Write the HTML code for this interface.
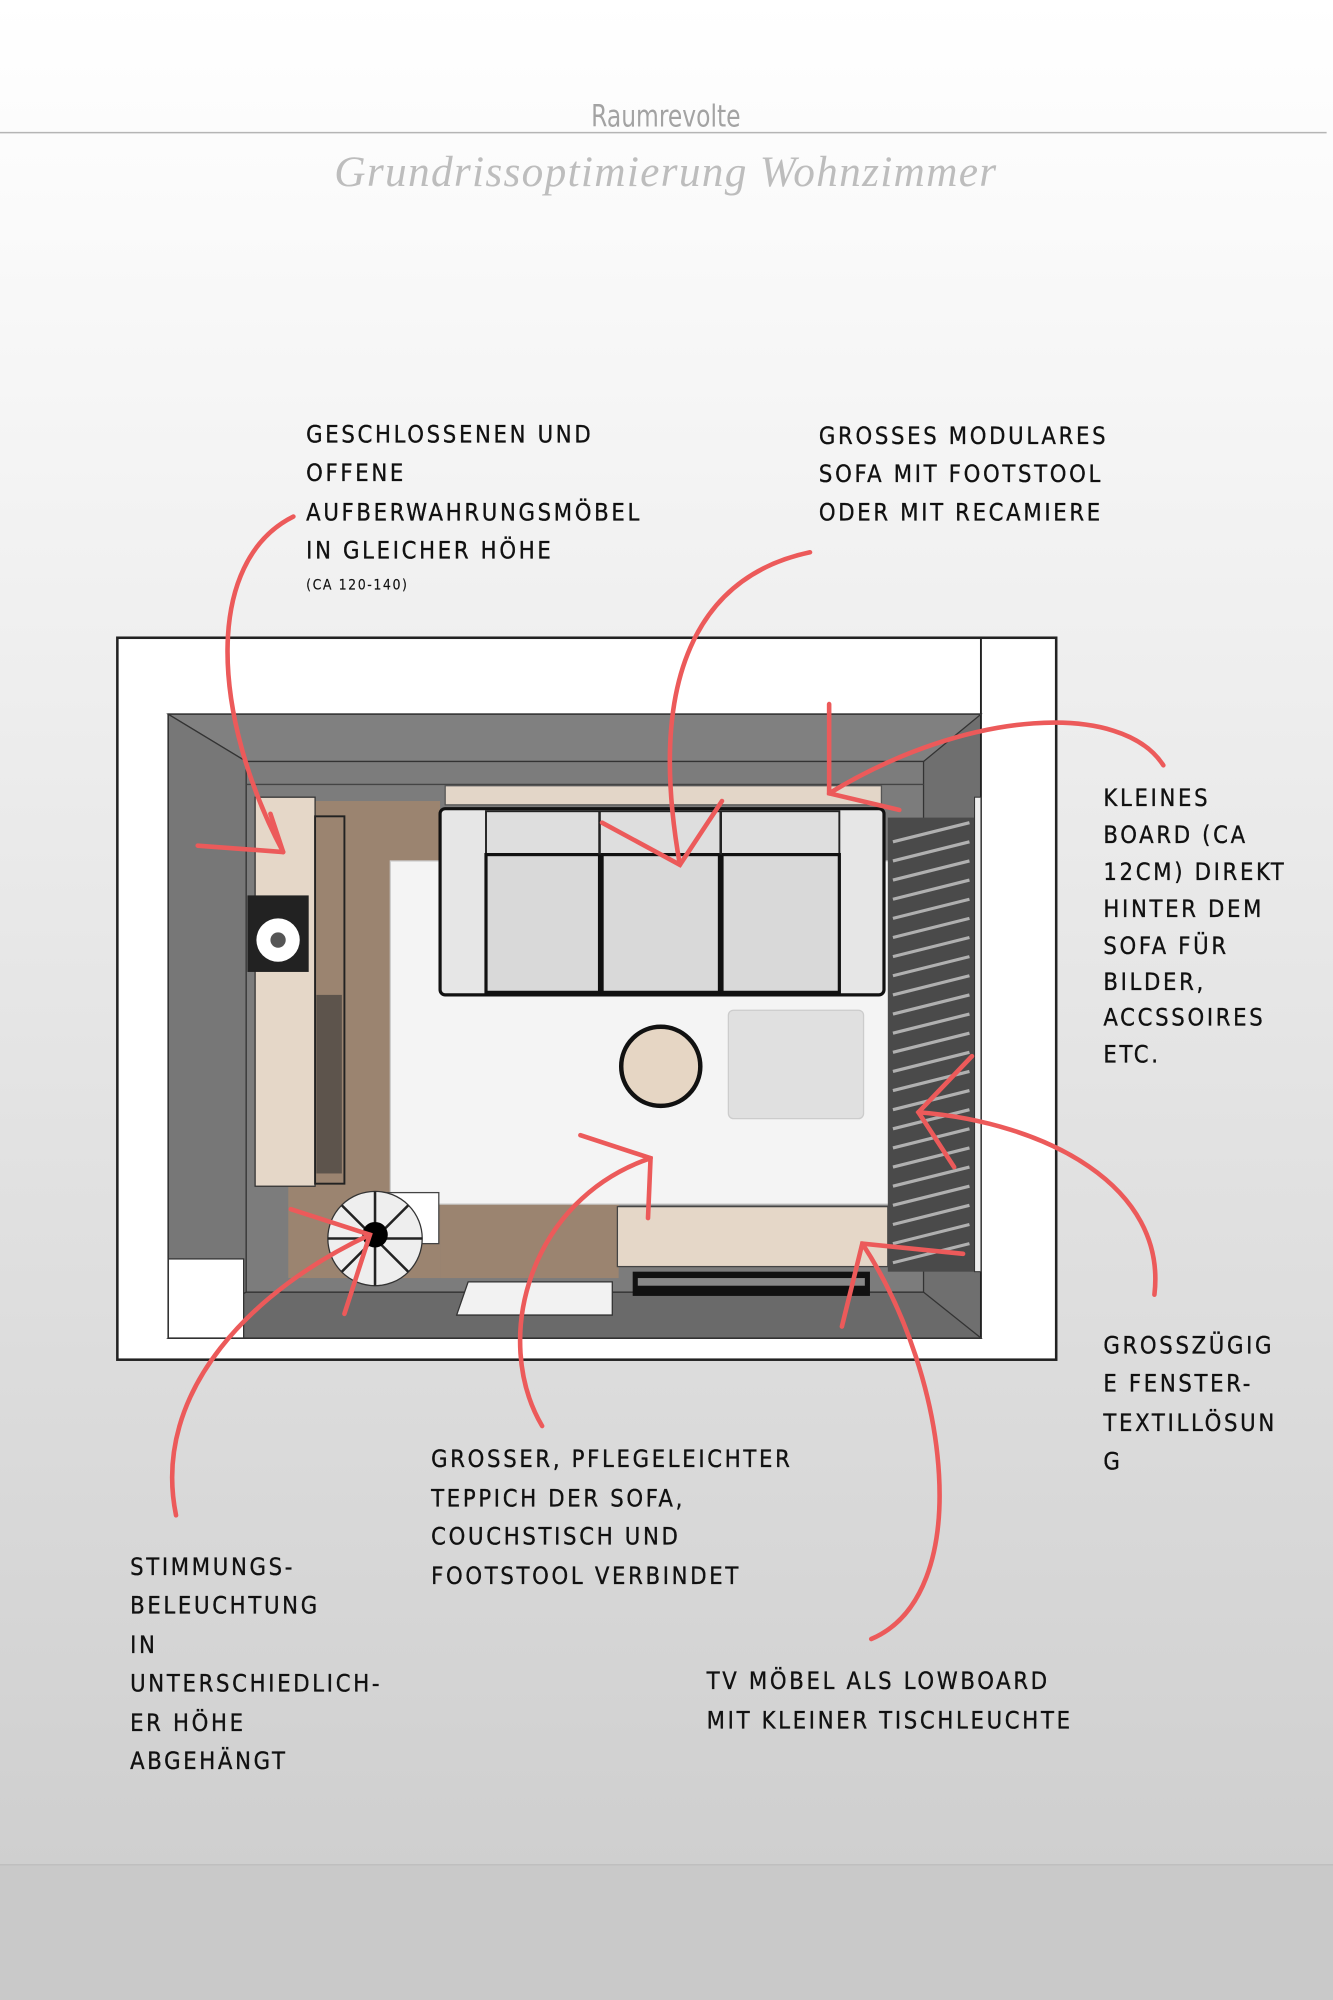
<!DOCTYPE html>
<html><head><meta charset="utf-8"><style>
html,body{margin:0;padding:0;width:1333px;height:2000px;overflow:hidden}
svg{display:block}
.t{font-family:"DejaVu Sans Condensed","Liberation Sans Narrow","Liberation Sans",sans-serif;font-size:18.5px;letter-spacing:2.1px;fill:#111;stroke:#111;stroke-width:0.25}
.a{fill:none;stroke:#ec5a5a;stroke-width:3.6;stroke-linecap:round}
</style></head><body>
<svg width="1333" height="2000" viewBox="0 0 1045 1568" preserveAspectRatio="none" xmlns="http://www.w3.org/2000/svg">
<defs><linearGradient id="bg" x1="0" y1="0" x2="0" y2="1">
<stop offset="0" stop-color="#ffffff"/><stop offset="0.12" stop-color="#fafafa"/><stop offset="1" stop-color="#cfcfcf"/></linearGradient></defs>
<rect width="1045" height="1462" fill="url(#bg)"/>
<rect y="1462" width="1045" height="106" fill="#c9c9c9"/>
<line x1="0" y1="1462" x2="1045" y2="1462" stroke="#bdbdbd" stroke-width="1"/>
<line x1="0" y1="104" x2="1040" y2="104" stroke="#b5b5b5" stroke-width="1.2"/>
<text x="522" y="99" text-anchor="middle" font-family="DejaVu Sans Condensed,Liberation Sans,sans-serif" font-size="24" fill="#a3a3a3" transform="translate(522,0) scale(0.85,1) translate(-522,0)">Raumrevolte</text>
<text x="522" y="146" text-anchor="middle" font-family="Liberation Serif,serif" font-style="italic" font-size="34" fill="#bdbdbd" letter-spacing="1">Grundrissoptimierung  Wohnzimmer</text>

<!-- floor plan -->
<rect x="92" y="500" width="736" height="566" fill="#fff" stroke="#222" stroke-width="2"/>
<rect x="132" y="560" width="637" height="489" fill="#6f6f6f" stroke="#222" stroke-width="1.5"/>
<line x1="769" y1="500" x2="769" y2="560" stroke="#222" stroke-width="1.5"/>
<polygon points="193,597 724,597 769,560 132,560" fill="#808080" stroke="#333" stroke-width="1"/>
<polygon points="132,560 193,597 193,1013 132,1049" fill="#777" stroke="#333" stroke-width="1"/>
<polygon points="193,1013 724,1013 769,1049 132,1049" fill="#6a6a6a" stroke="#333" stroke-width="1"/>
<rect x="193" y="597" width="531" height="416" fill="#7c7c7c" stroke="#333" stroke-width="1"/>
<line x1="193" y1="615" x2="724" y2="615" stroke="#444"/>
<rect x="226" y="628" width="119" height="374" fill="#9b8470"/>
<rect x="345" y="944" width="140" height="58" fill="#9b8470"/>
<rect x="306" y="675" width="392" height="269" fill="#f4f4f4" stroke="#ccc"/>
<rect x="349" y="616" width="342" height="15" fill="#e3d6c8" stroke="#555"/>
<!-- sofa -->
<rect x="345" y="634" width="348" height="146" rx="4" fill="#e6e6e6" stroke="#111" stroke-width="2.5"/>
<rect x="381" y="636" width="277" height="34" fill="#dedede" stroke="#222" stroke-width="1.5"/>
<rect x="381" y="670" width="89" height="108" fill="#d9d9d9" stroke="#111" stroke-width="2.5"/>
<rect x="472" y="670" width="92" height="108" fill="#d9d9d9" stroke="#111" stroke-width="2.5"/>
<rect x="566" y="670" width="92" height="108" fill="#d9d9d9" stroke="#111" stroke-width="2.5"/>
<line x1="470" y1="636" x2="470" y2="670" stroke="#222" stroke-width="2"/>
<line x1="565" y1="636" x2="565" y2="670" stroke="#222" stroke-width="2"/>
<circle cx="518" cy="836" r="31" fill="#e6d6c4" stroke="#111" stroke-width="3.5"/>
<rect x="571" y="792" width="106" height="85" rx="4" fill="#e0e0e0" stroke="#ccc"/>
<!-- shelf -->
<rect x="200" y="625" width="47" height="305" fill="#e5d7c8" stroke="#333"/>
<rect x="247" y="640" width="23" height="288" fill="none" stroke="#222" stroke-width="1.5"/>
<rect x="248" y="780" width="20" height="140" fill="#333" opacity="0.6"/>
<rect x="194" y="702" width="48" height="60" fill="#222"/>
<circle cx="218" cy="737" r="17" fill="#fff"/><circle cx="218" cy="737" r="6" fill="#555"/>
<!-- tv board -->
<rect x="484" y="946" width="212" height="47" fill="#e5d7c8" stroke="#444"/>
<rect x="496" y="997" width="186" height="19" fill="#111"/>
<rect x="500" y="1002" width="178" height="6" fill="#888"/>
<!-- curtain -->
<rect x="696" y="641" width="68" height="356" fill="#4a4a4a"/>
<g stroke="#b0b0b0" stroke-width="2.5">
<line x1="700" y1="660" x2="760" y2="645"/><line x1="700" y1="675" x2="760" y2="660"/><line x1="700" y1="690" x2="760" y2="675"/><line x1="700" y1="705" x2="760" y2="690"/><line x1="700" y1="720" x2="760" y2="705"/><line x1="700" y1="735" x2="760" y2="720"/><line x1="700" y1="750" x2="760" y2="735"/><line x1="700" y1="765" x2="760" y2="750"/><line x1="700" y1="780" x2="760" y2="765"/><line x1="700" y1="795" x2="760" y2="780"/><line x1="700" y1="810" x2="760" y2="795"/><line x1="700" y1="825" x2="760" y2="810"/><line x1="700" y1="840" x2="760" y2="825"/><line x1="700" y1="855" x2="760" y2="840"/><line x1="700" y1="870" x2="760" y2="855"/><line x1="700" y1="885" x2="760" y2="870"/><line x1="700" y1="900" x2="760" y2="885"/><line x1="700" y1="915" x2="760" y2="900"/><line x1="700" y1="930" x2="760" y2="915"/><line x1="700" y1="945" x2="760" y2="930"/><line x1="700" y1="960" x2="760" y2="945"/><line x1="700" y1="975" x2="760" y2="960"/><line x1="700" y1="990" x2="760" y2="975"/>
</g>
<rect x="764" y="625" width="5" height="372" fill="#eee" stroke="#333" stroke-width="0.8"/>
<!-- lamp -->
<rect x="300" y="935" width="44" height="40" fill="#fff" stroke="#444"/>
<circle cx="294" cy="971" r="37" fill="#eee" stroke="#333"/>
<g stroke="#222" stroke-width="2">
<line x1="294" y1="971" x2="294" y2="934"/><line x1="294" y1="971" x2="320" y2="945"/><line x1="294" y1="971" x2="331" y2="971"/><line x1="294" y1="971" x2="320" y2="997"/><line x1="294" y1="971" x2="294" y2="1008"/><line x1="294" y1="971" x2="268" y2="997"/><line x1="294" y1="971" x2="257" y2="971"/><line x1="294" y1="971" x2="268" y2="945"/></g>
<circle cx="294" cy="968" r="10" fill="#000"/>
<rect x="132" y="987" width="59" height="62" fill="#fff" stroke="#333"/>
<polygon points="367,1005 480,1005 480,1031 358,1031" fill="#f2f2f2" stroke="#333"/>

<!-- arrows -->
<path class="a" d="M230,405 C160,440 165,560 222,668"/><path class="a" d="M212,638 L222,668 M155,663 L222,668"/>
<path class="a" d="M635,433 C555,450 505,520 533,678"/><path class="a" d="M472,645 L533,678 L566,628"/>
<path class="a" d="M912,600 C880,550 760,555 650,622"/><path class="a" d="M650,552 L650,622 L705,635"/>
<path class="a" d="M905,1015 C915,930 820,880 720,872"/><path class="a" d="M762,828 L720,872 L748,915"/>
<path class="a" d="M683,1285 C765,1250 745,1080 676,975"/><path class="a" d="M660,1040 L676,975 L755,983"/>
<path class="a" d="M425,1118 C385,1050 415,940 510,908"/><path class="a" d="M455,890 L510,908 L508,955"/>
<path class="a" d="M138,1188 C118,1090 200,1010 290,968"/><path class="a" d="M228,948 L290,968 L270,1030"/>

<!-- labels -->
<text class="t" x="240" y="347">GESCHLOSSENEN UND</text>
<text class="t" x="240" y="377">OFFENE</text>
<text class="t" x="240" y="408">AUFBERWAHRUNGSMÖBEL</text>
<text class="t" x="240" y="438">IN GLEICHER HÖHE</text>
<text class="t" x="240" y="462" style="font-size:11px;letter-spacing:1.2px;stroke-width:0.1">(CA 120-140)</text>

<text class="t" x="642" y="348">GROSSES MODULARES</text>
<text class="t" x="642" y="378">SOFA MIT FOOTSTOOL</text>
<text class="t" x="642" y="408">ODER MIT RECAMIERE</text>

<text class="t" x="865" y="632">KLEINES</text>
<text class="t" x="865" y="661">BOARD (CA</text>
<text class="t" x="865" y="690">12CM) DIREKT</text>
<text class="t" x="865" y="719">HINTER DEM</text>
<text class="t" x="865" y="748">SOFA  FÜR</text>
<text class="t" x="865" y="776">BILDER,</text>
<text class="t" x="865" y="804">ACCSSOIRES</text>
<text class="t" x="865" y="833">ETC.</text>

<text class="t" x="865" y="1061">GROSSZÜGIG</text>
<text class="t" x="865" y="1091">E FENSTER-</text>
<text class="t" x="865" y="1122">TEXTILLÖSUN</text>
<text class="t" x="865" y="1152">G</text>

<text class="t" x="338" y="1150">GROSSER, PFLEGELEICHTER</text>
<text class="t" x="338" y="1181">TEPPICH DER SOFA,</text>
<text class="t" x="338" y="1211">COUCHSTISCH UND</text>
<text class="t" x="338" y="1242">FOOTSTOOL VERBINDET</text>

<text class="t" x="102" y="1235">STIMMUNGS-</text>
<text class="t" x="102" y="1265">BELEUCHTUNG</text>
<text class="t" x="102" y="1296">IN</text>
<text class="t" x="102" y="1326">UNTERSCHIEDLICH-</text>
<text class="t" x="102" y="1357">ER HÖHE</text>
<text class="t" x="102" y="1387">ABGEHÄNGT</text>

<text class="t" x="554" y="1324">TV MÖBEL ALS LOWBOARD</text>
<text class="t" x="554" y="1355">MIT KLEINER TISCHLEUCHTE</text>
</svg>
</body></html>
